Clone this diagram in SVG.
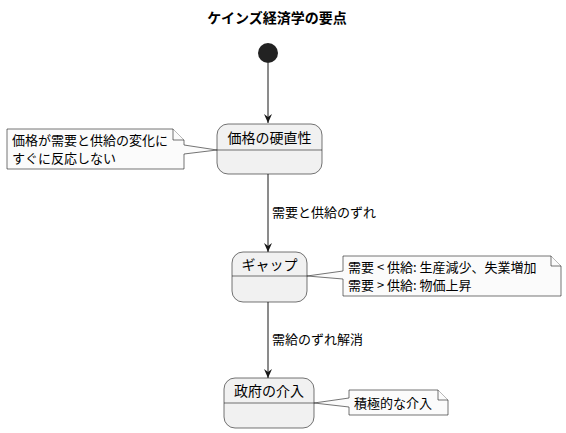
<svg xmlns="http://www.w3.org/2000/svg" width="566" height="433" viewBox="0 0 566 433">
<defs>
<style>
text{font-family:"Noto Sans CJK JP","Noto Sans CJK SC",sans-serif;fill:#000}
.title{font-size:14px;font-weight:bold}
.st{font-size:14px}
.nt{font-size:13px}
.lb{font-size:13px}
.state{fill:#F1F1F1;stroke:#181818;stroke-width:0.6}
.div{stroke:#181818;stroke-width:0.6}
.note{fill:#FBFBFB;stroke:#181818;stroke-width:0.6}
.edge{stroke:#181818;stroke-width:1;fill:none}
</style>
<marker id="arr" markerWidth="10" markerHeight="10" refX="9" refY="4" orient="auto" markerUnits="userSpaceOnUse">
<path d="M0,0 L9,4 L0,8 L3,4 Z" fill="#181818"/>
</marker>
</defs>
<rect width="566" height="433" fill="#FFFFFF"/>
<text class="title" x="277" y="23" text-anchor="middle">ケインズ経済学の要点</text>

<g id="start"><circle cx="268" cy="53" r="10" fill="#222222"/></g>

<g id="connectors">
<line class="edge" x1="268" y1="63" x2="268" y2="123" marker-end="url(#arr)"/>
<line class="edge" x1="268" y1="174" x2="268" y2="252" marker-end="url(#arr)"/>
<text class="lb" x="272" y="217">需要と供給のずれ</text>
<line class="edge" x1="268" y1="302" x2="268" y2="378" marker-end="url(#arr)"/>
<text class="lb" x="272" y="344">需給のずれ解消</text>
</g>

<g id="node-koutyoku">
<rect class="state" x="217" y="124" width="105" height="50" rx="11" ry="11"/>
<line class="div" x1="217" y1="150" x2="322" y2="150"/>
<text class="st" x="269.5" y="143" text-anchor="middle">価格の硬直性</text>
</g>

<g id="note-koutyoku">
<path class="note" d="M7,129 L173,129 L184,140 L184,145 L217,150 L184,154 L184,169 L7,169 Z"/>
<path class="note" d="M173,129 L173,140 L184,140"/>
<text class="nt" x="12" y="145">価格が需要と供給の変化に</text>
<text class="nt" x="12" y="163">すぐに反応しない</text>
</g>

<g id="node-gap">
<rect class="state" x="232" y="252" width="75" height="50" rx="11" ry="11"/>
<line class="div" x1="232" y1="276" x2="307" y2="276"/>
<text class="st" x="269.5" y="270" text-anchor="middle">ギャップ</text>
</g>

<g id="note-gap">
<path class="note" d="M343,256 L551,256 L561,266 L561,296 L343,296 L343,279 L307,276 L343,271 Z"/>
<path class="note" d="M551,256 L551,266 L561,266"/>
<text class="nt" x="348" y="272" xml:space="preserve">需要 &lt; 供給: 生産減少、失業増加</text>
<text class="nt" x="348" y="290" xml:space="preserve">需要 &gt; 供給: 物価上昇</text>
</g>

<g id="node-seifu">
<rect class="state" x="224" y="378" width="90" height="50" rx="11" ry="11"/>
<line class="div" x1="224" y1="403" x2="314" y2="403"/>
<text class="st" x="269" y="396" text-anchor="middle">政府の介入</text>
</g>

<g id="note-seifu">
<path class="note" d="M349,390 L438,390 L448,400 L448,415 L349,415 L349,407 L314,403 L349,398 Z"/>
<path class="note" d="M438,390 L438,400 L448,400"/>
<text class="nt" x="354" y="408">積極的な介入</text>
</g>
</svg>
